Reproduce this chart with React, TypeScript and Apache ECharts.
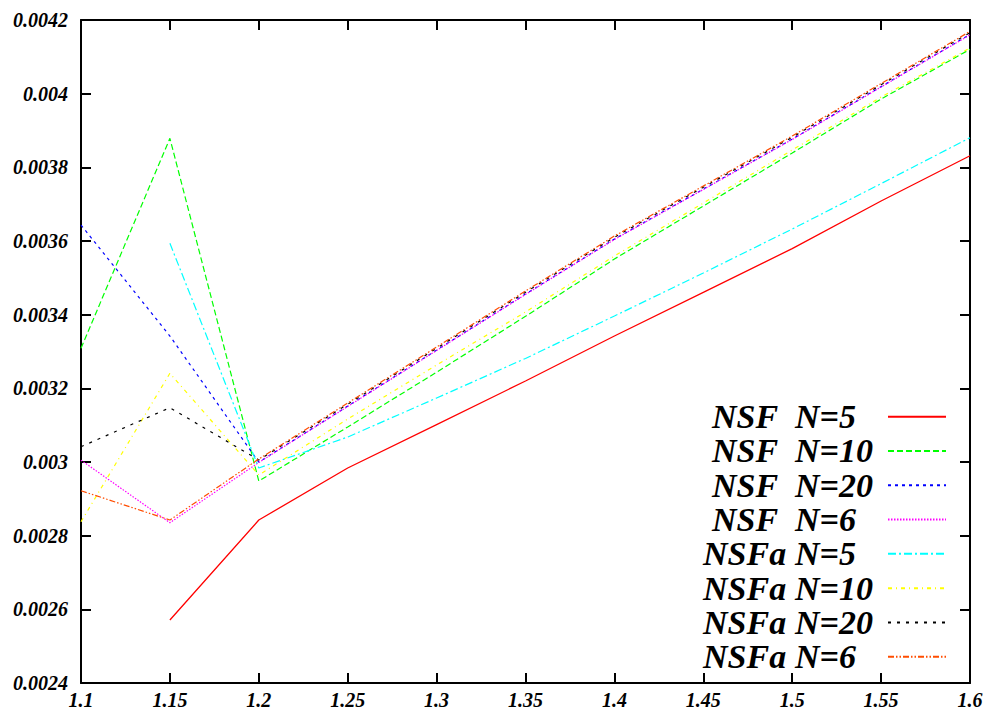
import { useEffect, useRef } from "react";
import * as echarts from "echarts";

const xValues = [1.1, 1.15, 1.2, 1.25, 1.3, 1.35, 1.4, 1.45, 1.5, 1.55, 1.6];

const nsfN5 = [null, 0.002571, 0.0028425, 0.0029837, 0.0031015, 0.0032199, 0.003342, 0.0034607, 0.0035793, 0.0037085, 0.0038315];
const nsfN10 = [0.0033086, 0.0038788, 0.0029484, 0.003095, 0.0032438, 0.0033955, 0.0035511, 0.003695, 0.0038388, 0.0039854, 0.0041204];
const nsfN20 = [0.0036434, 0.003342, 0.0029995, 0.0031517, 0.0033037, 0.0034558, 0.0036051, 0.0037408, 0.0038766, 0.0040191, 0.0041608];
const nsfN6 = [0.003005, 0.0028352, 0.0029987, 0.0031507, 0.0033027, 0.0034548, 0.0036041, 0.0037398, 0.0038756, 0.0040181, 0.0041598];
const nsfaN5 = [null, 0.0035937, 0.0029837, 0.0030678, 0.0031737, 0.0032812, 0.0033963, 0.0035131, 0.0036325, 0.0037558, 0.0038804];
const nsfaN10 = [0.0028379, 0.0032408, 0.0029647, 0.0031167, 0.0032633, 0.0034072, 0.0035592, 0.0037031, 0.003847, 0.0039909, 0.0041239];
const nsfaN20 = [0.0030415, 0.0031474, 0.0030054, 0.0031567, 0.0033087, 0.0034608, 0.0036101, 0.0037458, 0.0038816, 0.0040241, 0.0041658];
const nsfaN6 = [0.002922, 0.0028425, 0.0030081, 0.0031601, 0.0033121, 0.0034642, 0.0036135, 0.0037492, 0.003885, 0.0040275, 0.0041692];

const seriesNames = ["NSF  N=5", "NSF  N=10", "NSF  N=20", "NSF  N=6", "NSFa N=5", "NSFa N=10", "NSFa N=20", "NSFa N=6"];
const seriesValues = [nsfN5, nsfN10, nsfN20, nsfN6, nsfaN5, nsfaN10, nsfaN20, nsfaN6];
const seriesColors = ["#ff0000", "#00ff00", "#0000ff", "#ff00ff", "#00ffff", "#ffff00", "#000000", "#ff4d00"];
const seriesDashes: (number[] | "solid")[] = [
  "solid",
  [6, 3],
  [3, 4],
  [1.5, 1.5],
  [8, 3, 2, 3],
  [4, 4, 1, 4],
  [3, 6],
  [6, 2, 1.5, 2, 1.5, 2],
];

const xMin = 1.1;
const xMax = 1.6;
const xStep = 0.05;
const yMin = 0.0024;
const yMax = 0.0042;
const yStep = 0.0002;

const FONT = "'Liberation Serif', 'DejaVu Serif', serif";

export default function App() {
  const ref = useRef<HTMLDivElement>(null);

  useEffect(() => {
    if (!ref.current) return;
    const chart = echarts.init(ref.current, undefined, { renderer: "svg" });

    const labelStyle = {
      fontFamily: FONT,
      fontSize: 20,
      fontWeight: "bold" as const,
      fontStyle: "italic" as const,
      color: "#000",
    };
    const axisLine = { show: true, lineStyle: { color: "#000", width: 2 } };
    const axisTick = { show: true, inside: true, length: 10, lineStyle: { color: "#000", width: 2 } };

    const series = seriesNames.map((name, i) => ({
      name,
      type: "line" as const,
      data: xValues
        .map((x, j) => [x, seriesValues[i][j]])
        .filter((p) => p[1] !== null),
      symbol: "none",
      showSymbol: false,
      silent: true,
      lineStyle: {
        color: seriesColors[i],
        width: i === 0 ? 1.3 : 1.2,
        type: seriesDashes[i] as any,
      },
      itemStyle: { color: seriesColors[i] },
      z: 2 + i,
    }));

    const richBase = {
      fontFamily: FONT,
      fontSize: 34,
      fontWeight: "bold" as const,
      fontStyle: "italic" as const,
      color: "#000",
      lineHeight: 34.3,
      align: "left" as const,
    };

    chart.setOption({
      animation: false,
      backgroundColor: "#fff",
      textStyle: { fontFamily: FONT },
      grid: { left: 81, right: 18, top: 20, bottom: 30, containLabel: false },
      legend: {
        show: true,
        orient: "vertical",
        align: "right",
        left: 697,
        top: 399.5,
        padding: 0,
        itemGap: 0,
        itemWidth: 58,
        itemHeight: 14,
        selectedMode: false,
        data: seriesNames,
        itemStyle: { opacity: 0, color: "transparent", borderColor: "transparent", borderWidth: 0 },
        formatter: (name: string) => {
          const parts = name.split(/\s+/);
          const key = parts[0] === "NSFa" ? "pa" : "pb";
          return `{${key}|${parts[0]}}{n|${parts[1]}}`;
        },
        textStyle: {
          ...richBase,
          rich: {
            pa: { ...richBase, width: 92, padding: [0, 0, 0, 6] },
            pb: { ...richBase, width: 83, padding: [0, 0, 0, 15] },
            n: { ...richBase, width: 88 },
          },
        },
      },
      xAxis: [
        {
          type: "value",
          position: "bottom",
          min: xMin,
          max: xMax,
          interval: xStep,
          axisLine,
          axisTick,
          splitLine: { show: false },
          axisLabel: {
            ...labelStyle,
            margin: 7,
            formatter: (v: number) => String(+v.toFixed(2)),
          },
        },
        {
          type: "value",
          position: "top",
          min: xMin,
          max: xMax,
          interval: xStep,
          axisLine,
          axisTick,
          splitLine: { show: false },
          axisLabel: { show: false },
        },
      ],
      yAxis: [
        {
          type: "value",
          position: "left",
          min: yMin,
          max: yMax,
          interval: yStep,
          axisLine,
          axisTick,
          splitLine: { show: false },
          axisLabel: {
            ...labelStyle,
            margin: 13,
            formatter: (v: number) => String(+v.toFixed(4)),
          },
        },
        {
          type: "value",
          position: "right",
          min: yMin,
          max: yMax,
          interval: yStep,
          axisLine,
          axisTick,
          splitLine: { show: false },
          axisLabel: { show: false },
        },
      ],
      series,
    });

    return () => chart.dispose();
  }, []);

  return (
    <div
      ref={ref}
      style={{ position: "fixed", left: 0, top: 0, width: 988, height: 713, background: "#fff" }}
    />
  );
}
